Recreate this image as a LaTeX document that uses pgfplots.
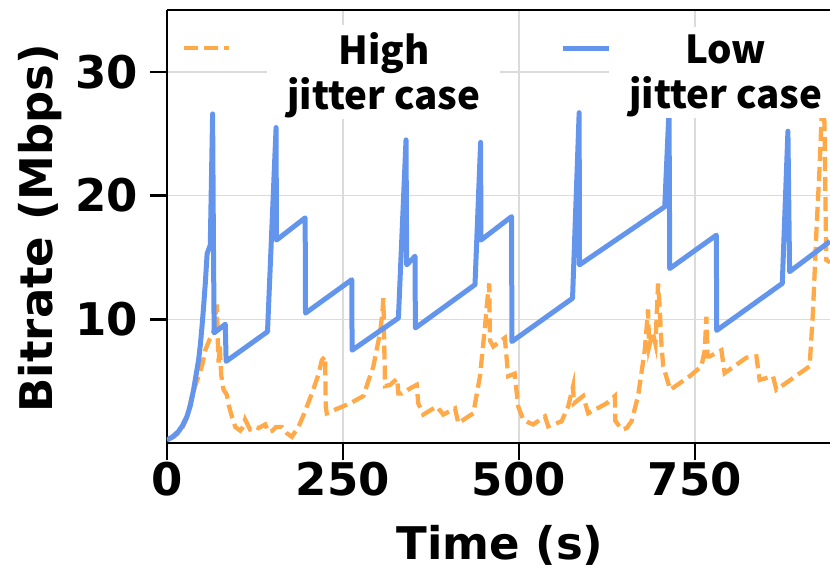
\documentclass[border=0pt]{standalone}
\usepackage{pgfplots}
\pgfplotsset{compat=1.18}
\usepackage{fontspec}
\setmainfont{DejaVu Sans}
\newfontfamily\legfont{Noto Sans CJK KR}
\definecolor{lowblue}{RGB}{100,149,237}
\definecolor{highorange}{RGB}{255,169,72}
\pgfplotsset{
  highimg/.style={legend image code/.code={\draw[##1] (0pt,24pt) -- (45pt,24pt); \path (88pt,24pt);}},
  lowimg/.style={legend image code/.code={\draw[##1] (0pt,24pt) -- (51pt,24pt);}},
}
\begin{document}
\begin{tikzpicture}
\useasboundingbox (-167pt,-127pt) rectangle (663pt,443pt);
\begin{axis}[
  at={(0pt,0pt)}, anchor=south west,
  scale only axis, width=663pt, height=433pt,
  xmin=0, xmax=942, ymin=0, ymax=35,
  axis x line*=bottom, axis y line*=left,
  axis line style={line width=2.5pt, -},
  xtick={0,250,500,750}, ytick={10,20,30},
  tick align=outside, major tick length=17pt,
  major tick style={line width=2.5pt, black},
  grid=major, major grid style={line width=1.5pt, color=black!14},
  clip mode=individual,
  /pgf/number format/assume math mode=true,
  ticklabel style={font=\fontsize{45}{54}\selectfont\bfseries},
  xticklabel style={inner sep=0pt, anchor=north, yshift=-2pt},
  yticklabel style={inner sep=0pt, anchor=east, xshift=-12pt},
  xlabel={Time (s)},
  ylabel={Bitrate (Mbps)},
  label style={font=\fontsize{45}{54}\selectfont\bfseries, inner sep=0pt},
  xlabel style={at={(axis description cs:0.5023,-0.189)}, anchor=north},
  ylabel style={at={(axis description cs:-0.2247,0.4965)}, anchor=north},
  legend columns=2,
  legend style={draw=none, fill=none, inner sep=0pt, outer sep=0pt,
    at={(axis description cs:0,1)}, anchor=north west, xshift=15pt, yshift=-15pt,
    font=\legfont\bfseries\fontsize{38.5}{45}\selectfont,
    nodes={fill=white, inner xsep=20pt, inner ysep=8pt, align=center},
    /tikz/every odd column/.append style={column sep=-7pt},
    /tikz/every even column/.append style={column sep=60pt}},
]
\addplot[highorange, line width=4.3pt, dash pattern=on 14pt off 6pt, highimg]
coordinates {
(0,0.25)(10,0.5)(20,1.0)(28,2.0)(35.5,3.8)(40,4.6)(44.9,5.4)(50,6.3)(54.4,7.5)(60,8.3)
(63.8,8.6)(67,9.2)(69,11.0)(70,9.5)(71,11.2)(72,8.5)(73.3,6.5)(75,7.8)(77,5.5)(80.4,4.3)
(85,3.9)(88,3.0)(92.2,2.15)(97,1.3)(104,1.0)(108,1.3)(111,1.9)(118,1.1)(125,1.3)(130,1.2)
(139.5,1.5)(144,0.9)(150,1.0)(155,1.3)(163,1.3)(170,0.8)(177.4,0.5)(186.8,1.3)(195,2.4)
(205.8,4.0)(215,5.5)(220,6.7)(224.7,7.0)(225.5,2.95)(227,2.4)(238.9,2.7)(260,3.2)(279,3.8)
(286,5.0)(293.2,6.2)(302.7,8.9)(306,10.5)(307.4,11.7)(309.8,4.6)(317,4.7)(327,5.2)(328.7,4.0)
(333.4,4.0)(345,4.4)(354.8,4.7)(357,3.2)(364.2,2.3)(383.2,2.95)(392.6,2.3)(409.2,2.8)
(413.9,1.6)(435.2,2.4)(444.7,5.4)(451.8,9.4)(455,11.5)(457.9,12.9)(458.8,8.3)(463.6,7.8)
(473,8.2)(480,8.5)(484.8,5.4)(494,5.6)(499,2.95)(506,1.9)(512,1.7)(520.3,1.5)(537,2.15)
(541.6,1.35)(560.6,1.75)(570,2.95)(577,4.6)(578,3.2)(591.3,3.8)(598.4,2.4)(624.5,3.2)
(636.3,3.8)(637,1.8)(645.8,1.1)(653,1.2)(660,1.75)(669.3,3.8)(678.8,7.5)(683.5,10.8)
(685,7.8)(690,9.0)(694,8.0)(697.7,12.9)(700,11.0)(702.5,8.0)(705,6.2)(715,4.3)(742.7,5.4)
(759.3,6.2)(764,7.5)(766.4,10.2)(768,7.0)(771.1,7.0)(787.7,7.5)(792.3,5.65)(823.2,6.9)
(837.4,7.0)(842,5.1)(861,5.4)(865.8,4.3)(913,6.2)(917.7,10.5)(922.5,16.9)(927.2,22.3)
(930.5,27)(934,26)(936.7,14.8)(942,14.6)
};
\addlegendentry{High\\jitter case}
\addplot[lowblue, line width=5pt, line join=round, lowimg]
coordinates {
(0,0.25)(8,0.5)(16.5,0.94)(22,1.4)(28.4,2.15)(33,3.0)(37.8,4.3)(41,5.4)(44.9,6.7)(47.5,8.0)
(49.7,9.4)(52,11.0)(54.4,12.9)(57,15.3)(61.5,16.0)(64.8,26.6)(66,16.0)(67,8.9)(82.8,9.6)
(84,6.6)(142.8,9.0)(155,25.5)(155.5,16.4)(196.3,18.2)(196.8,10.5)(262.5,13.2)(263,7.5)
(328.8,10.1)(339.6,24.5)(340.6,14.4)(352.4,15.1)(352.9,9.3)(437.6,12.8)(445.6,24.3)
(446,16.4)(489.6,18.3)(490,8.2)(576.2,11.7)(585.6,26.7)(586,14.4)(707.2,19.1)(713.3,27)
(714.3,14.1)(780.5,16.8)(781,9.1)(874.2,12.9)(882.2,25.2)(884.6,13.85)(942,16.3)
};
\addlegendentry{Low\\jitter case}
\draw[line width=2.5pt] (rel axis cs:0,1) -- (rel axis cs:1,1);
\end{axis}
\end{tikzpicture}
\end{document}
